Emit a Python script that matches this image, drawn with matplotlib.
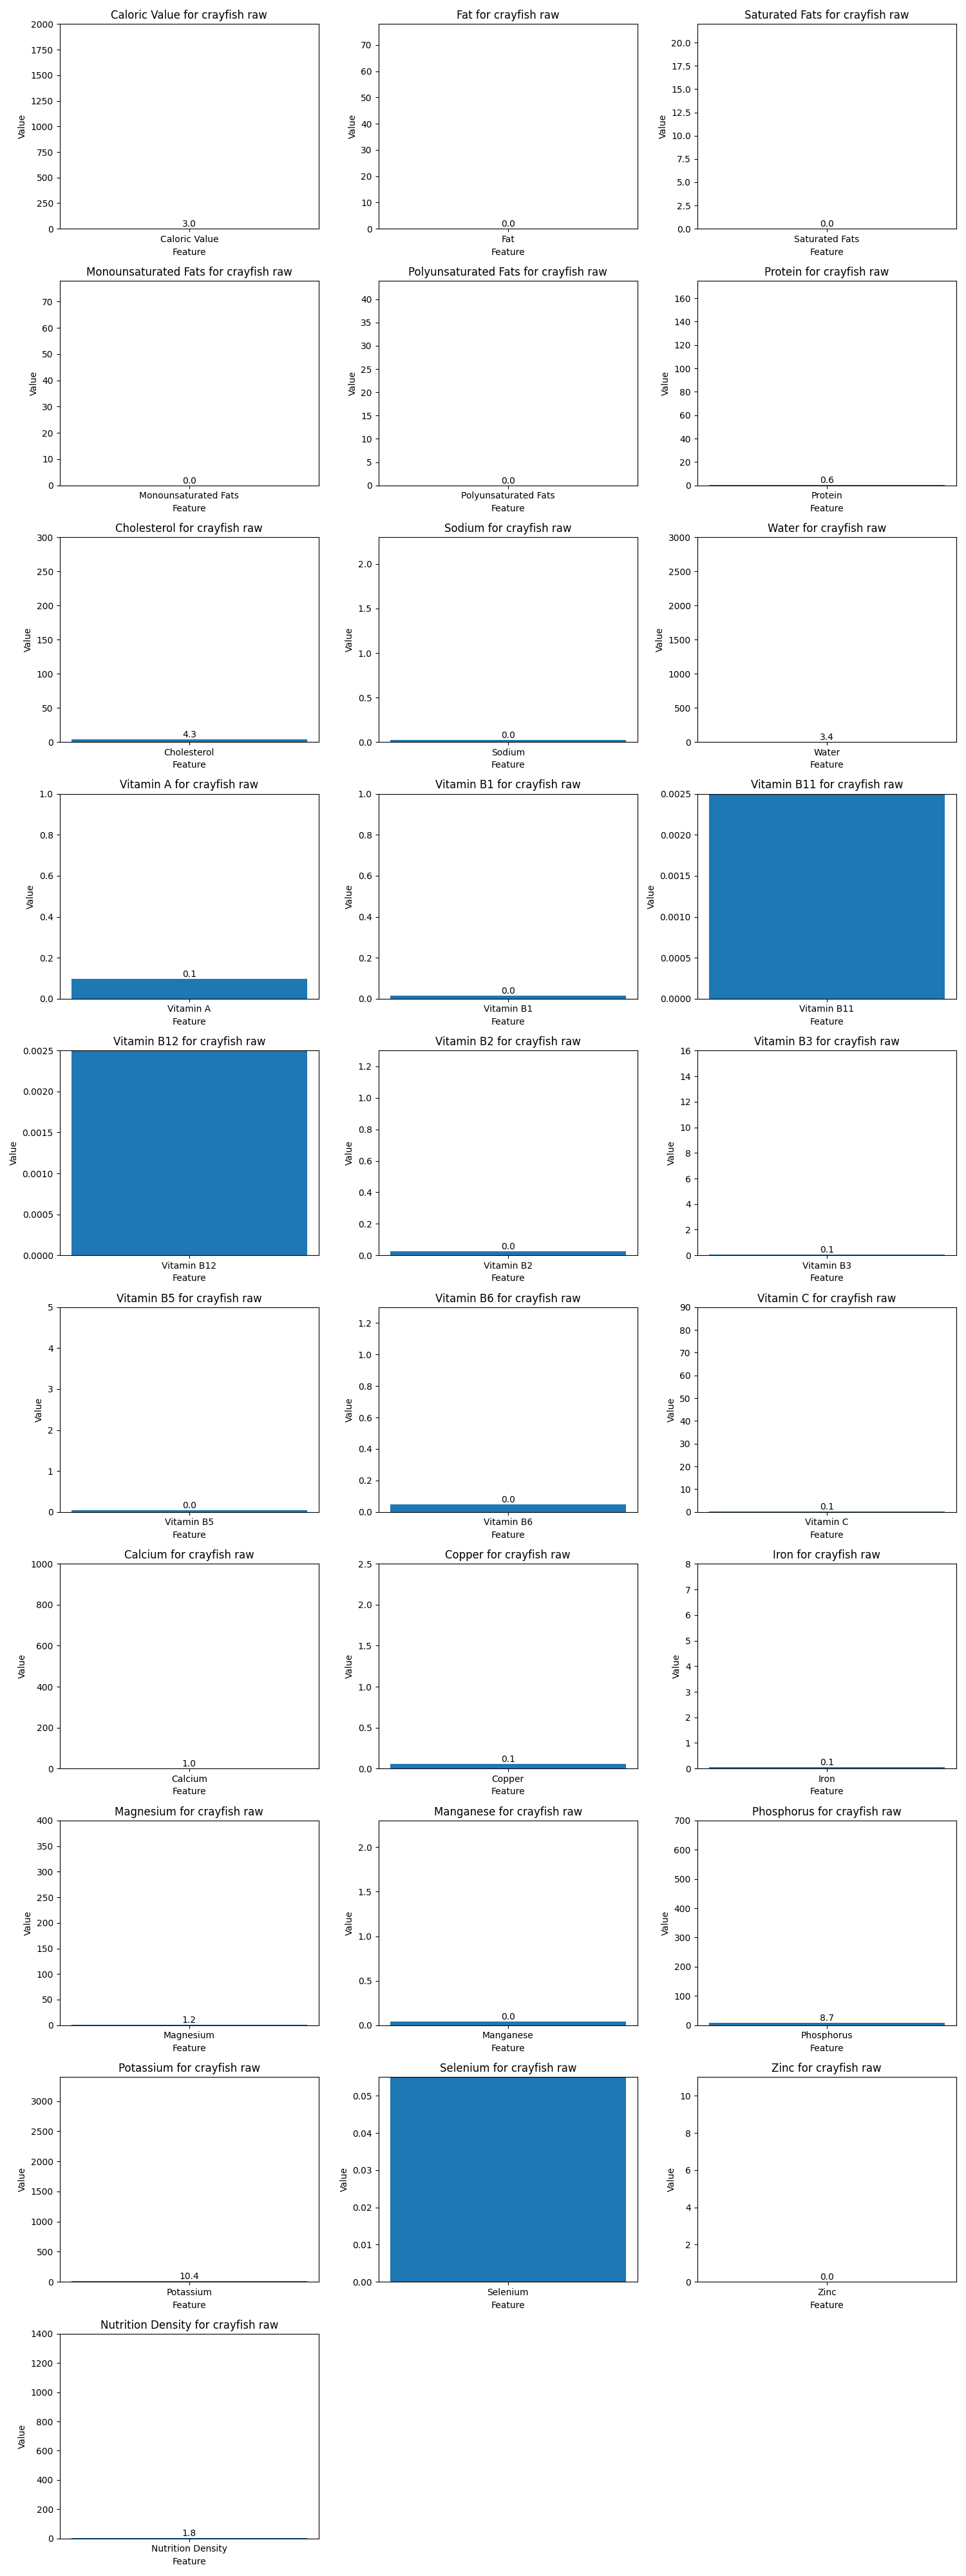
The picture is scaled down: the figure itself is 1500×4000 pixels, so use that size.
import matplotlib
matplotlib.use("Agg")
import matplotlib.pyplot as plt
import numpy as np

food = "crayfish raw"

features = [
    "Caloric Value", "Fat", "Saturated Fats",
    "Monounsaturated Fats", "Polyunsaturated Fats", "Protein",
    "Cholesterol", "Sodium", "Water",
    "Vitamin A", "Vitamin B1", "Vitamin B11",
    "Vitamin B12", "Vitamin B2", "Vitamin B3",
    "Vitamin B5", "Vitamin B6", "Vitamin C",
    "Calcium", "Copper", "Iron",
    "Magnesium", "Manganese", "Phosphorus",
    "Potassium", "Selenium", "Zinc",
    "Nutrition Density",
]

values = [
    3.0, 0.0, 0.0,
    0.0, 0.0, 0.6,
    4.3, 0.022, 3.4,
    0.098, 0.015, 0.01,
    0.01, 0.025, 0.07,
    0.045, 0.048, 0.1,
    1.0, 0.06, 0.06,
    1.2, 0.04, 8.7,
    10.4, 0.1, 0.0,
    1.8,
]

# y-axis upper limits per feature
ylims = [
    2000, 78, 22,
    78, 44, 175,
    300, 2.3, 3000,
    1.0, 1.0, 0.0025,
    0.0025, 1.3, 16,
    5, 1.3, 90,
    1000, 2.5, 8,
    400, 2.3, 700,
    3400, 0.055, 11,
    1400,
]

ncols = 3
nrows = int(np.ceil(len(features) / ncols))
fig, axes = plt.subplots(nrows, ncols, figsize=(15, 40))
axes = axes.flatten()

for i, (feat, val, top) in enumerate(zip(features, values, ylims)):
    ax = axes[i]
    bars = ax.bar([feat], [val], color="#1f77b4")
    ax.bar_label(bars, labels=[f"{val:.1f}"])
    ax.set_ylim(0, top)
    ax.set_title(f"{feat} for {food}")
    ax.set_xlabel("Feature")
    ax.set_ylabel("Value")

for j in range(len(features), len(axes)):
    axes[j].axis("off")

plt.tight_layout()
plt.savefig("out.png", dpi=100)
